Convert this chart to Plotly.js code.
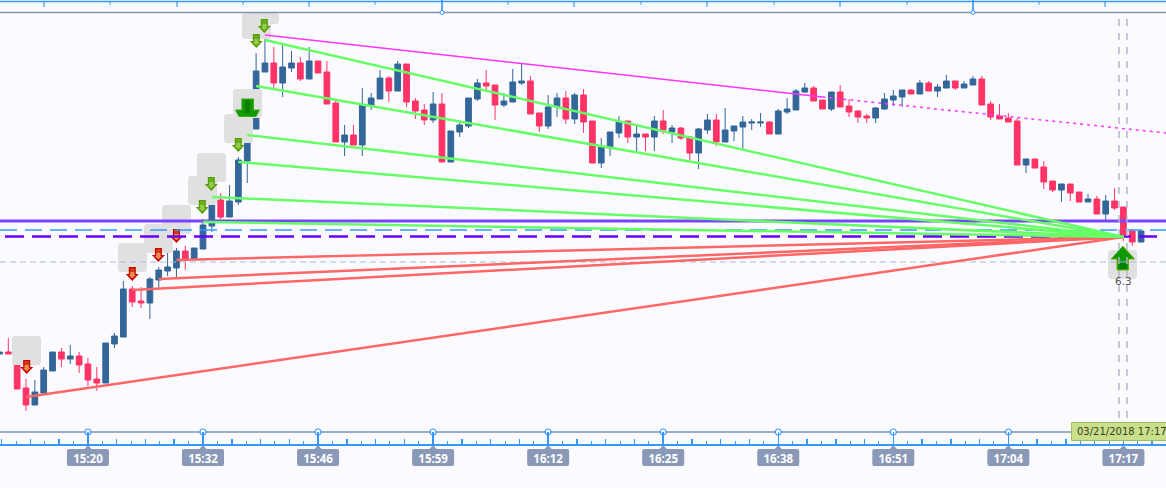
<!DOCTYPE html>
<html>
<head>
<meta charset="utf-8">
<script src="https://cdn.plot.ly/plotly-3.0.1.min.js"></script>
<style>html,body{margin:0;padding:0;background:#FBFBFF;overflow:hidden}#c{width:1166px;height:488px}</style>
</head>
<body>
<div id="c"></div>
<script>
// ---------- chart data (arbitrary price scale) ----------
const barIndex = Array.from({length:130},(_,k)=>k-1);
const opens = [90,92,90,56,39,51,73,92,85,88,80,65,61,100,107,155,143,141,164,173,176,193,185,195,218,244,227,242,283,315,372,381,361,376,381,365,383,372,341,302,309,299,339,345,366,353,380,343,334,324,340,282,312,318,345,361,359,339,342,361,363,331,318,337,346,325,349,323,281,296,311,323,307,310,307,323,312,316,307,291,314,324,302,313,317,321,321,322,310,332,334,352,356,344,335,352,338,333,328,326,335,344,347,354,350,361,353,356,363,356,359,365,340,328,326,323,279,285,277,263,254,260,252,242,245,230,243,237,213,202];
const highs = [92,106,90,65,64,77,92,96,99,92,86,77,101,111,163,158,157,167,177,191,196,198,196,225,244,251,259,287,315,391,405,397,399,393,387,397,383,383,343,319,319,356,351,374,368,383,380,346,340,352,351,313,322,346,365,374,359,351,375,381,368,331,349,351,353,351,355,323,306,312,328,323,318,310,328,334,319,317,307,316,330,330,336,318,328,325,331,323,335,346,355,361,358,344,352,359,345,334,330,337,351,354,354,355,364,363,360,369,363,363,368,368,343,340,331,326,285,285,283,263,260,260,252,250,248,249,256,237,215,213];
const lows = [90,90,55,33,39,51,73,77,80,71,58,53,61,96,107,137,136,125,156,168,167,174,185,195,212,225,227,239,261,315,372,356,347,372,363,365,371,340,302,288,299,288,334,345,342,353,337,325,319,321,282,282,307,316,343,354,324,337,342,359,330,312,315,327,320,320,311,281,276,288,306,301,293,293,293,310,301,304,283,275,310,298,302,303,295,314,317,310,310,330,334,351,343,335,333,337,327,321,321,321,334,338,337,350,350,353,347,356,354,356,359,339,324,325,322,279,271,276,255,252,242,243,242,242,230,224,234,203,198,202];
const closes = [92,90,55,39,52,74,92,85,88,79,64,61,101,108,155,142,141,165,174,177,193,185,196,219,239,227,243,284,315,373,381,361,377,381,365,383,371,340,302,309,299,339,346,366,353,380,342,333,324,340,282,313,319,346,361,358,339,343,362,363,330,318,337,346,325,349,322,281,297,312,322,307,310,307,323,314,316,306,291,315,324,302,314,318,322,322,322,310,333,335,353,356,343,335,352,337,332,327,326,336,345,348,354,350,361,353,357,363,356,360,365,339,327,325,322,279,285,276,262,254,260,251,242,245,230,243,236,209,202,213];

const tickIndex = [9,22,35,48,61,74,87,100,113,126];
const tickLabels = ['15:20','15:32','15:46','15:59','16:12','16:25','16:38','16:51','17:04','17:17'];

const convergeX = 126, convergeY = 207;
const greenStartX = [29,28,27,26,23,22];
const greenStartY = [404,358,309,282,247,222];
const redStartX = [2,14,17,19];
const redStartY = [47,154,165,184];
const magentaSolidX = [29,92], magentaSolidY = [409,347];
const magentaDotX = [92,130.8], magentaDotY = [347,311];

const violetLevel = 223, blueDashLevel = 214, violetDashLevel = 207.5, greyDashLevel = 182;
const cursorX = [125.5,126.4];
const signalValue = '6.3';
const cursorLabel = '03/21/2018 17:17';

// ---------- helpers for furniture positioned on the window ----------
const W=1166, PH=444;
const ix = p => (p-8.3)/8.85;
const iy = p => PH-p;
const px = p => p/W;
const py = p => 1-p/PH;
const xmin = ix(0), xmax = ix(W);
const traces = [];

const BLUE='#3399FF', SLATE='#7F93B3';

// candles
traces.push({type:'candlestick',x:barIndex,open:opens,high:highs,low:lows,close:closes,
  increasing:{line:{color:'#336699',width:1},fillcolor:'#336699'},
  decreasing:{line:{color:'#FF3366',width:1},fillcolor:'#FF3366'},
  whiskerwidth:0,hoverinfo:'skip',showlegend:false});

function poly(pts,fill,lineColor,lw){
  traces.push({type:'scatter',mode:lineColor?'lines':'none',fill:'toself',fillcolor:fill,
    x:pts.map(p=>ix(p[0])),y:pts.map(p=>iy(p[1])),
    line:{color:lineColor||fill,width:lw||0},hoverinfo:'skip',showlegend:false});
}
function lineT(x,y,color,width,dash){
  traces.push({type:'scatter',mode:'lines',x:x,y:y,line:{color:color,width:width,dash:dash||'solid'},
    hoverinfo:'skip',showlegend:false});
}
function grayBox(x,y,yBottom){
  const r=2, b=yBottom||y+29;
  poly([[x+r,y],[x+29-r,y],[x+29,y+r],[x+29,b-r],[x+29-r,b],[x+r,b],[x,b-r],[x,y+r]],'#E0E0E0');
}
function downArrow(cx,top,c){
  poly([[cx-3.5,top],[cx+3.5,top],[cx+3.5,top+7],[cx+6.5,top+7],[cx,top+14],[cx-6.5,top+7],[cx-3.5,top+7]],c[0]);
  poly([[cx-2.2,top+1],[cx+2.2,top+1],[cx+2.2,top+5],[cx-2.2,top+5]],c[1]);
  poly([[cx-2.2,top+5],[cx+2.2,top+5],[cx+2.2,top+8],[cx+3.6,top+8],[cx,top+11.6],[cx-3.6,top+8],[cx-2.2,top+8]],c[2]);
}
const RED=['#C80000','#D83A18','#EE8C4C'];
const GRN=['#559C00','#64AE22','#96CA4A'];

grayBox(12,336); grayBox(118,243); grayBox(144,224); grayBox(162,205);
grayBox(188,176); grayBox(197,153); grayBox(224,114); grayBox(233,89);
grayBox(250,13,24); grayBox(242,13,39); grayBox(1108,250);

downArrow(26.7,360,RED); downArrow(132.3,267,RED); downArrow(158.4,248,RED); downArrow(176.4,229,RED);
downArrow(202.3,200,GRN); downArrow(211.3,177,GRN); downArrow(238.3,138,GRN);
downArrow(256.3,34,GRN); downArrow(264.3,19,GRN);
// large green down arrow
poly([[241.5,99],[253.5,99],[253.5,110],[259.5,110],[256,116.5],[239,116.5],[235.5,110],[241.5,110]],'#129A00','#3DAA18',1);
poly([[245,100],[250,100],[250,113],[245,113]],'#0A8000');
// large green up arrow
poly([[1122.7,246],[1134.5,259],[1128.5,259],[1128.5,270],[1117,270],[1117,259],[1111,259]],'#0E9A00','#6FAA00',1);
poly([[1119,261],[1126.5,261],[1126.5,269],[1119,269]],'#008000');

// horizontal levels
lineT([xmin,xmax],[violetLevel,violetLevel],'#7744FF',3);
lineT([xmin,xmax],[blueDashLevel,blueDashLevel],BLUE,1.5,'17px,8px');
lineT([ix(5),ix(1157)],[violetDashLevel,violetDashLevel],'#6600FF',2.5,'19px,8px');
lineT([xmin,xmax],[greyDashLevel,greyDashLevel],'#AABBDD',1,'6px,4px');
// cursor
cursorX.forEach(v=>lineT([v,v],[12,430],'#B4B6C8',1.5,'7px,7px'));

// trend lines
redStartX.forEach((v,k)=>lineT([v,convergeX],[redStartY[k],convergeY],'#FF6666',2.5));
greenStartX.forEach((v,k)=>lineT([v,convergeX],[greenStartY[k],convergeY],'#66FF66',2.5));
lineT(magentaSolidX,magentaSolidY,'#FF33FF',1.5);
lineT(magentaDotX,magentaDotY,'#FF33FF',1.5,'3px,4px');

// lower slate rail
lineT([xmin,xmax],[12,12],SLATE,1.5);
// rail circles (also keeps the second tick axis alive)
traces.push({type:'scatter',mode:'markers',xaxis:'x2',x:tickIndex,y:tickIndex.map(()=>12),
  marker:{symbol:'circle',size:6,color:'#FFFFFF',line:{color:BLUE,width:1.2}},hoverinfo:'skip',showlegend:false});

// ---------- shapes ----------
const shapes=[];
function seg(x0,y0,x1,y1,color,w){shapes.push({type:'line',xref:'paper',yref:'paper',x0:px(x0),x1:px(x1),y0:py(y0),y1:py(y1),line:{color:color,width:w},layer:'above'});}
seg(0,1.5,W,1.5,BLUE,1.5);
seg(0,12.5,W,12.5,SLATE,1.5);
[44,177,309,574,707,840,1105].forEach(x=>seg(x,2,x,7,BLUE,1.2));
[110,243,375,508,641,774,907,1039].forEach(x=>seg(x,2,x,5,BLUE,1));
[442,973].forEach(x=>{seg(x,0,x,13,BLUE,1.2);
  shapes.push({type:'circle',xref:'paper',yref:'paper',x0:px(x-2),x1:px(x+2),y0:py(10.5),y1:py(14.5),line:{color:BLUE,width:1},fillcolor:'#FBFBFF',layer:'above'});
  seg(x,0,x,11,BLUE,1.2);});

// time label plates
const labelX=tickIndex.map(i=>8.3+8.85*i);
labelX.forEach(x=>{
  const path=(t,b)=>`M${px(x-19)} ${py(t)} L${px(x+19)} ${py(t)} Q${px(x+21)} ${py(t)} ${px(x+21)} ${py(t+2)} L${px(x+21)} ${py(b-2)} Q${px(x+21)} ${py(b)} ${px(x+19)} ${py(b)} L${px(x-19)} ${py(b)} Q${px(x-21)} ${py(b)} ${px(x-21)} ${py(b-2)} L${px(x-21)} ${py(t+2)} Q${px(x-21)} ${py(t)} ${px(x-19)} ${py(t)} Z`;
  shapes.push({type:'path',xref:'paper',yref:'paper',path:path(449,466),fillcolor:'#8B99B8',line:{width:0},layer:'below'});
  shapes.push({type:'path',xref:'paper',yref:'paper',path:`M${px(x-4)} ${py(449.5)} L${px(x)} ${py(445)} L${px(x+4)} ${py(449.5)} Z`,fillcolor:'#8B99B8',line:{width:0},layer:'below'});
});
// date plate
shapes.push({type:'rect',xref:'paper',yref:'paper',x0:px(1071.5),x1:px(1172),y0:py(422.5),y1:py(440.5),fillcolor:'#C9DF8C',line:{color:'#A2BE5C',width:1},layer:'above'});

const layout={
  width:1166,height:488,margin:{l:0,r:0,t:0,b:44,pad:0},
  paper_bgcolor:'#FBFBFF',plot_bgcolor:'#FBFBFF',showlegend:false,dragmode:false,
  boxgap:0.08,
  xaxis:{range:[xmin,xmax],rangeslider:{visible:false},showgrid:false,zeroline:false,
    showline:true,linecolor:BLUE,linewidth:1.5,
    tickmode:'array',tickvals:tickIndex,ticktext:tickLabels,ticks:'inside',ticklen:12,tickwidth:1.5,tickcolor:BLUE,
    tickfont:{family:'Open Sans',size:11.5,color:'#FFFFFF',weight:700},ticklabelstandoff:4,
    minor:{ticks:'inside',ticklen:3,tickwidth:1,tickcolor:BLUE,tickmode:'linear',tick0:9,dtick:1.625,showgrid:false}},
  xaxis2:{overlaying:'x',range:[xmin,xmax],side:'bottom',showgrid:false,zeroline:false,showline:false,
    showticklabels:false,tickmode:'linear',tick0:9,dtick:3.25,ticks:'inside',ticklen:5,tickwidth:1.5,tickcolor:BLUE},
  yaxis:{range:[0,PH],visible:false,fixedrange:true},
  shapes:shapes,
  annotations:[
    {xref:'paper',yref:'paper',x:px(1075),y:py(431.5),xanchor:'left',yanchor:'middle',showarrow:false,text:cursorLabel,
     font:{family:'DejaVu Sans',size:10,color:'#3A3F22'}},
    {xref:'paper',yref:'paper',x:px(1123),y:py(281),xanchor:'center',yanchor:'middle',showarrow:false,text:signalValue,
     font:{family:'DejaVu Sans',size:10.5,color:'#555555'}}
  ]
};
Plotly.newPlot('c',traces,layout,{staticPlot:true,displayModeBar:false});
</script>
</body>
</html>
